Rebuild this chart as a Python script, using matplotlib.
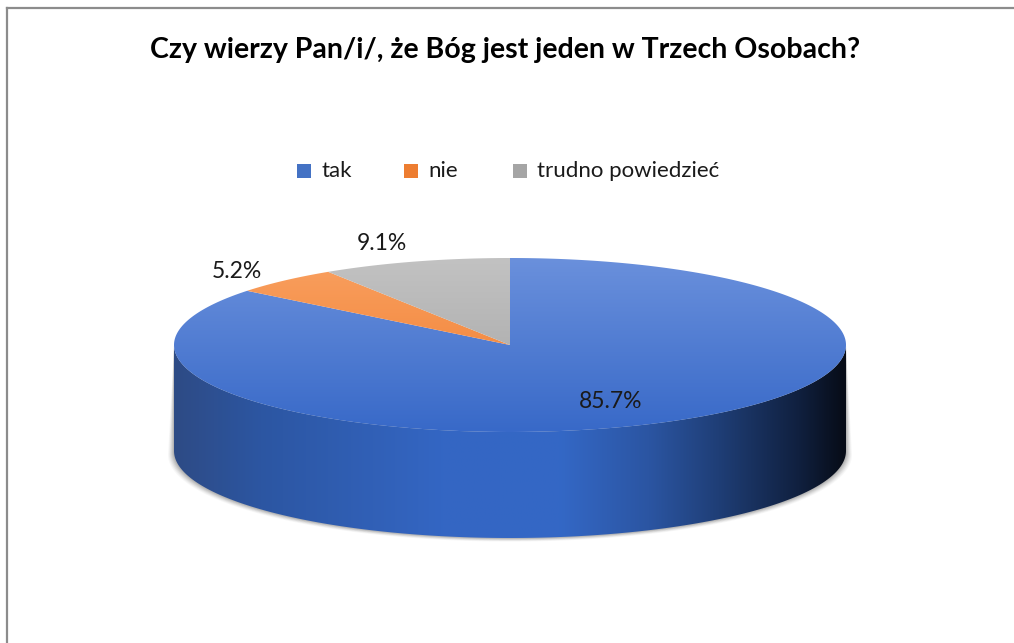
import numpy as np
import matplotlib
matplotlib.use('Agg')
import matplotlib.pyplot as plt
from matplotlib.patches import Polygon, Rectangle
from matplotlib.colors import to_rgb

# Data
labels = ['tak', 'nie', 'trudno powiedzieć']
values = [85.7, 5.2, 9.1]
label_txt = ['85.7%', '5.2%', '9.1%']
title = 'Czy wierzy Pan/i/, że Bóg jest jeden w Trzech Osobach?'

# top colour (light) -> bottom colour (dark) of each slice's top face
top_cols = [('#6a90dc', '#3869c8'), ('#f9a060', '#f07a2a'), ('#c2c2c2', '#a3a3a3')]
legend_cols = ['#4472c4', '#ed7d31', '#a5a5a5']

# pie geometry in pixels
cx, cy = 510, 345
rx, ry = 336, 87
depth = 106

plt.rcParams['font.family'] = ['Lato', 'DejaVu Sans']

fig = plt.figure(figsize=(10.14, 6.43), dpi=100, facecolor='white')
ax = fig.add_axes([0, 0, 1, 1])
ax.set_xlim(0, 1014)
ax.set_ylim(643, 0)
ax.axis('off')


def pt(theta, dy=0.0):
    t = np.radians(theta)
    return cx + rx * np.sin(t), cy - ry * np.cos(t) + dy


def gradient_fill(poly_xy, stops, axis='y', z=2):
    poly = Polygon(poly_xy, closed=True, facecolor='none', edgecolor='none')
    ax.add_patch(poly)
    x0, x1 = cx - rx - 2, cx + rx + 2
    y0, y1 = cy - ry - 2, cy + ry + depth + 2
    n = 256
    pos = np.array([s[0] for s in stops])
    cols = np.array([to_rgb(s[1]) for s in stops])
    if axis == 'y':
        coords = np.linspace(y0, y1, n)
    else:
        coords = np.linspace(x0, x1, n)
    rgb = np.stack([np.interp(coords, pos, cols[:, k]) for k in range(3)], axis=-1)
    if axis == 'y':
        img = np.repeat(rgb[:, None, :], 4, axis=1)
    else:
        img = np.repeat(rgb[None, :, :], 4, axis=0)
    im = ax.imshow(img, extent=(x0, x1, y1, y0), aspect='auto',
                   interpolation='bilinear', zorder=z)
    im.set_clip_path(poly)


# border lines of the chart area
ax.plot([7, 1014], [8, 8], color='#8c8c8c', lw=1.6, zorder=1)
ax.plot([7, 7], [8, 643], color='#8c8c8c', lw=1.6, zorder=1)

# soft shadow under the pie
for k, a in zip(range(6, 0, -1), [0.03, 0.04, 0.05, 0.06, 0.07, 0.08]):
    th = np.linspace(90, 270, 200)
    xs, ys = pt(th, depth)
    xs = cx + (xs - cx) * (1 + k / rx)
    ys = ys + k * 0.6
    side = list(zip(*pt(th, 0))) + list(zip(xs[::-1], ys[::-1]))
    ax.add_patch(Polygon(side, closed=True, facecolor='black', edgecolor='none',
                         alpha=a, zorder=1.5))

# slice angles, clockwise from 12 o'clock
bounds = np.concatenate([[0], np.cumsum(values) / np.sum(values) * 360])

side_stops = [
    [(174, '#2e4b85'), (260, '#2c56a2'), (440, '#3466c3'), (560, '#3468c6'),
     (650, '#2b55a2'), (720, '#1f3e76'), (800, '#10203f'), (846, '#070c17')],
    [(174, '#a8501a'), (846, '#3a1a05')],
    [(174, '#707070'), (846, '#202020')],
]

# front side walls
for i in range(len(values)):
    a, b = max(bounds[i], 90), min(bounds[i + 1], 270)
    if b <= a:
        continue
    th = np.linspace(a, b, 200)
    xt, yt = pt(th)
    xb, yb = pt(th[::-1], depth)
    poly = list(zip(xt, yt)) + list(zip(xb, yb))
    gradient_fill(poly, side_stops[i], axis='x', z=2)

# top faces
for i in range(len(values)):
    th = np.linspace(bounds[i], bounds[i + 1], 300)
    xt, yt = pt(th)
    poly = [(cx, cy)] + list(zip(xt, yt))
    c1, c2 = top_cols[i]
    gradient_fill(poly, [(cy - ry, c1), (cy + ry, c2)], axis='y', z=3)

# data labels
label_pos = [(611, 402), (237, 271), (382, 243)]
for (lx, ly), t in zip(label_pos, label_txt):
    ax.text(lx, ly, t, ha='center', va='center', fontsize=16.5, color='#1a1a1a', zorder=5)

# title
ax.text(505, 50, title, ha='center', va='center', fontsize=20.5,
        fontweight='bold', color='#000000', zorder=5)

# legend
leg_x = [297, 404, 513]
for x, lab, col in zip(leg_x, labels, legend_cols):
    ax.add_patch(Rectangle((x, 164), 14, 14, facecolor=col, edgecolor='none', zorder=5))
    ax.text(x + 24, 171, lab, ha='left', va='center', fontsize=16,
            color='#1a1a1a', zorder=5)

fig.savefig('out.png', dpi=100, facecolor='white')
